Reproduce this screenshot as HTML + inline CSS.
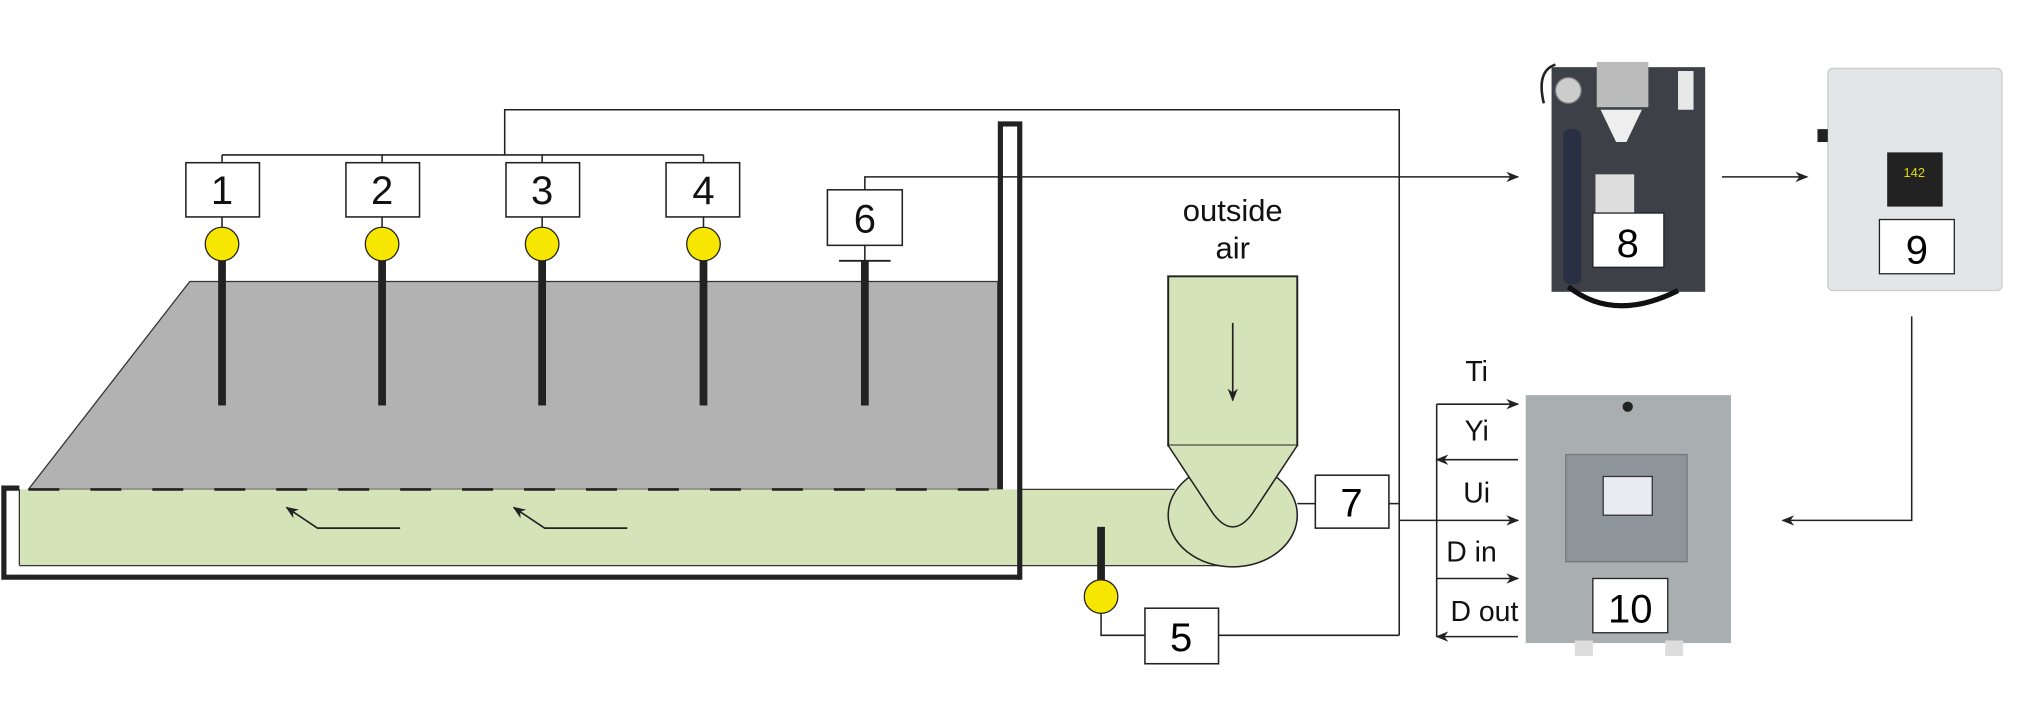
<!DOCTYPE html>
<html><head><meta charset="utf-8"><style>html,body{margin:0;padding:0;background:#fff}svg{display:block}</style></head>
<body>
<svg width="2024" height="727" viewBox="0 0 1568 563" preserveAspectRatio="none" xmlns="http://www.w3.org/2000/svg" font-family="Liberation Sans, sans-serif">
<defs><marker id="a" markerWidth="10" markerHeight="8" refX="9" refY="4" orient="auto" markerUnits="userSpaceOnUse"><path d="M0,0 L10,4 L0,8 L3,4 Z" fill="#222"/></marker></defs>
<!-- gray area -->
<polygon points="147,218 773,218 773,379 22,379" fill="#b2b2b2" stroke="#333" stroke-width="1"/>
<!-- green channel -->
<rect x="15" y="379" width="940" height="59" fill="#d5e3b9"/>
<line x1="15" y1="438" x2="955" y2="438" stroke="#333" stroke-width="1"/>
<line x1="15" y1="379" x2="15" y2="438" stroke="#333" stroke-width="1"/>
<line x1="790" y1="379" x2="910" y2="379" stroke="#333" stroke-width="1"/>
<line x1="22" y1="379" x2="773" y2="379" stroke="#222" stroke-width="2" stroke-dasharray="24,24"/>
<!-- outer black U -->
<polyline points="15,378 3,378 3,447 790,447" fill="none" stroke="#222" stroke-width="4"/>
<polyline points="775,379 775,96 790,96 790,449" fill="none" stroke="#222" stroke-width="4"/>
<!-- flow arrows -->
<polyline points="310,409 246,409 222,393" fill="none" stroke="#222" stroke-width="1.3" marker-end="url(#a)"/>
<polyline points="486,409 422,409 398,393" fill="none" stroke="#222" stroke-width="1.3" marker-end="url(#a)"/>
<!-- pipe & funnel -->
<ellipse cx="955" cy="399" rx="50" ry="40" fill="#d5e3b9" stroke="#222" stroke-width="1.2"/>
<rect x="905" y="214" width="100" height="131" fill="#d5e3b9" stroke="#222" stroke-width="1.5"/>
<path d="M905,345 L940,398 Q955,418 970,398 L1005,345" fill="#d5e3b9" stroke="#222" stroke-width="1.2"/>
<line x1="955" y1="250" x2="955" y2="310" stroke="#222" stroke-width="1.3" marker-end="url(#a)"/>
<text x="955" y="171" font-size="24" text-anchor="middle" fill="#111">outside</text>
<text x="955" y="200" font-size="24" text-anchor="middle" fill="#111">air</text>
<!-- top wiring -->
<polyline points="391,120 391,85 1084,85 1084,492" fill="none" stroke="#222" stroke-width="1.2"/>
<line x1="172" y1="120" x2="545" y2="120" stroke="#222" stroke-width="1.2"/>
<g stroke="#222" stroke-width="1.2" fill="#fff">
<line x1="172" y1="120" x2="172" y2="189"/><line x1="296" y1="120" x2="296" y2="189"/><line x1="420" y1="120" x2="420" y2="189"/><line x1="545" y1="120" x2="545" y2="189"/>
</g>
<g fill="#222"><rect x="169" y="200" width="6" height="114"/><rect x="293" y="200" width="6" height="114"/><rect x="417" y="200" width="6" height="114"/><rect x="542" y="200" width="6" height="114"/><rect x="667" y="202" width="6" height="112"/></g>
<g stroke="#222" stroke-width="1.2" fill="#fff">
<rect x="144" y="126" width="57" height="42"/><rect x="268" y="126" width="57" height="42"/><rect x="392" y="126" width="57" height="42"/><rect x="516" y="126" width="57" height="42"/>
<rect x="641" y="147" width="58" height="43"/>
</g>
<g fill="#f7e600" stroke="#222" stroke-width="1"><circle cx="172" cy="189" r="13"/><circle cx="296" cy="189" r="13"/><circle cx="420" cy="189" r="13"/><circle cx="545" cy="189" r="13"/></g>
<line x1="650" y1="202" x2="690" y2="202" stroke="#222" stroke-width="1.5"/>
<line x1="670" y1="190" x2="670" y2="202" stroke="#222" stroke-width="1.2"/>
<polyline points="670,147 670,137 1176,137" fill="none" stroke="#222" stroke-width="1.2" marker-end="url(#a)"/>
<g font-size="31" text-anchor="middle" fill="#111">
<text x="172" y="158">1</text><text x="296" y="158">2</text><text x="420" y="158">3</text><text x="545" y="158">4</text><text x="670" y="180">6</text>
</g>
<!-- sensor 5 -->
<rect x="850" y="408" width="6" height="42" fill="#222"/>
<polyline points="853,470 853,492 887,492" fill="none" stroke="#222" stroke-width="1.2"/>
<circle cx="853" cy="462" r="13" fill="#f7e600" stroke="#222" stroke-width="1"/>
<rect x="887" y="471" width="57" height="43" fill="#fff" stroke="#222" stroke-width="1.2"/>
<text x="915" y="504" font-size="31" text-anchor="middle">5</text>
<line x1="944" y1="492" x2="1084" y2="492" stroke="#222" stroke-width="1.2"/>
<!-- box 7 -->
<line x1="1005" y1="390" x2="1019" y2="390" stroke="#222" stroke-width="1.2"/>
<rect x="1019" y="368" width="57" height="41" fill="#fff" stroke="#222" stroke-width="1.2"/>
<text x="1047" y="400" font-size="31" text-anchor="middle">7</text>
<line x1="1076" y1="390" x2="1084" y2="390" stroke="#222" stroke-width="1.2"/>
<!-- signals -->
<line x1="1113" y1="313" x2="1113" y2="493" stroke="#222" stroke-width="1.2"/>
<line x1="1113" y1="313" x2="1176" y2="313" stroke="#222" stroke-width="1.2" marker-end="url(#a)"/>
<line x1="1176" y1="356" x2="1113" y2="356" stroke="#222" stroke-width="1.2" marker-end="url(#a)"/>
<line x1="1084" y1="403" x2="1176" y2="403" stroke="#222" stroke-width="1.2" marker-end="url(#a)"/>
<line x1="1113" y1="448" x2="1176" y2="448" stroke="#222" stroke-width="1.2" marker-end="url(#a)"/>
<line x1="1176" y1="493" x2="1113" y2="493" stroke="#222" stroke-width="1.2" marker-end="url(#a)"/>
<g font-size="22" text-anchor="middle" fill="#111">
<text x="1144" y="295">Ti</text><text x="1144" y="341">Yi</text><text x="1144" y="389">Ui</text><text x="1140" y="435">D in</text><text x="1150" y="481">D out</text>
</g>
<!-- arrows between devices -->
<line x1="1334" y1="137" x2="1400" y2="137" stroke="#222" stroke-width="1.2" marker-end="url(#a)"/>
<polyline points="1481,245 1481,403 1381,403" fill="none" stroke="#222" stroke-width="1.2" marker-end="url(#a)"/>
<!-- device 8 -->
<path d="M1196,80 Q1190,55 1205,50" fill="none" stroke="#222" stroke-width="2"/>
<rect x="1202" y="52" width="119" height="174" fill="#3d4046"/>
<circle cx="1215" cy="70" r="10" fill="#ccc" stroke="#777"/>
<rect x="1237" y="48" width="40" height="35" fill="#bbb"/>
<path d="M1240,85 L1272,85 L1260,110 L1252,110 Z" fill="#eee"/>
<rect x="1211" y="100" width="14" height="120" rx="5" fill="#2a3044"/>
<rect x="1236" y="135" width="30" height="30" fill="#ddd"/>
<rect x="1300" y="55" width="12" height="30" fill="#e8e8e8"/>
<path d="M1215,222 Q1250,250 1300,225" fill="none" stroke="#111" stroke-width="4"/>
<rect x="1234" y="165" width="55" height="42" fill="#fff" stroke="#222" stroke-width="1"/>
<text x="1261" y="199" font-size="31" text-anchor="middle">8</text>
<!-- device 9 -->
<rect x="1416" y="53" width="135" height="172" rx="4" fill="#e4e5e6" stroke="#ccc"/>
<rect x="1462" y="118" width="43" height="42" fill="#222"/>
<text x="1483" y="137" font-size="10" fill="#dd0" text-anchor="middle">142</text>
<rect x="1408" y="100" width="8" height="10" fill="#222"/>
<rect x="1456" y="170" width="58" height="42" fill="#fff" stroke="#222" stroke-width="1"/>
<text x="1485" y="204" font-size="31" text-anchor="middle">9</text>
<!-- device 10 -->
<rect x="1182" y="306" width="159" height="192" fill="#a9aeb1"/>
<rect x="1213" y="352" width="94" height="83" fill="#8d959b" stroke="#777"/>
<rect x="1242" y="369" width="38" height="30" fill="#e8ecf2" stroke="#333"/>
<circle cx="1261" cy="315" r="4" fill="#222"/>
<rect x="1220" y="496" width="14" height="12" fill="#ddd"/><rect x="1290" y="496" width="14" height="12" fill="#ddd"/>
<rect x="1234" y="448" width="58" height="42" fill="#fff" stroke="#222" stroke-width="1"/>
<text x="1263" y="482" font-size="31" text-anchor="middle">10</text>
</svg>
</body></html>
